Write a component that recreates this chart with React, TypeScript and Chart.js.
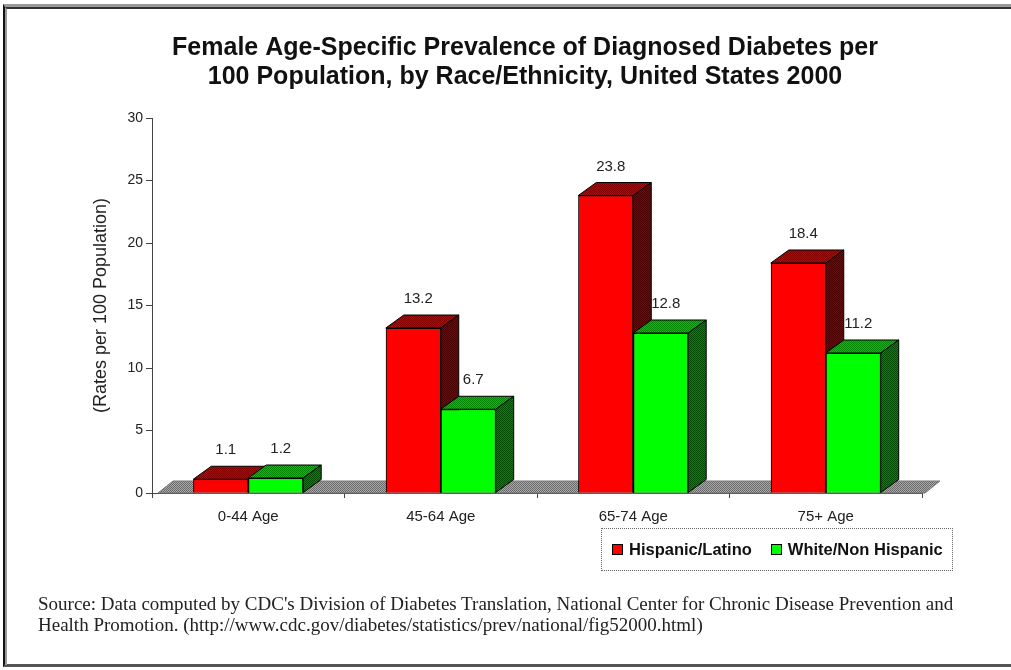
import React, { useEffect, useRef } from 'react';
import { Chart, registerables } from 'chart.js';

Chart.register(...registerables);

const categories = ['0-44 Age', '45-64 Age', '65-74 Age', '75+ Age'];
const seriesNames = ['Hispanic/Latino', 'White/Non Hispanic'];
const hispanicValues = [1.1, 13.2, 23.8, 18.4];
const whiteValues = [1.2, 6.7, 12.8, 11.2];
const yTickValues = [0, 5, 10, 15, 20, 25, 30];
const titleLines = [
  'Female Age-Specific Prevalence of Diagnosed Diabetes per',
  '100 Population, by Race/Ethnicity, United States 2000',
];
const yAxisTitle = '(Rates per 100 Population)';
const sourceLines = [
  "Source: Data computed by CDC's Division of Diabetes Translation, National Center for Chronic Disease Prevention and",
  'Health Promotion. (http://www.cdc.gov/diabetes/statistics/prev/national/fig52000.html)',
];

const frontColors = ['#FF0000', '#00FF00'];
const topColors = [['#C40000', '#860000'], ['#00C400', '#008600']];
const sideColors = [['#880000', '#4C0000'], ['#008800', '#004C00']];
const floorColors = ['#A8A8A8', '#6A6A6A'];

const DX = 18;
const DY = 13;
const FLOOR_DX = 15;
const FLOOR_DY = 12;

function makePattern(ctx: CanvasRenderingContext2D, a: string, b: string) {
  const c = document.createElement('canvas');
  c.width = 2;
  c.height = 2;
  const g = c.getContext('2d')!;
  g.fillStyle = a;
  g.fillRect(0, 0, 2, 2);
  g.fillStyle = b;
  g.fillRect(0, 0, 1, 1);
  g.fillRect(1, 1, 1, 1);
  return ctx.createPattern(c, 'repeat') as CanvasPattern;
}

function poly(ctx: CanvasRenderingContext2D, pts: number[][], fill: any) {
  ctx.beginPath();
  ctx.moveTo(pts[0][0], pts[0][1]);
  for (let i = 1; i < pts.length; i++) ctx.lineTo(pts[i][0], pts[i][1]);
  ctx.closePath();
  ctx.fillStyle = fill;
  ctx.fill();
  ctx.strokeStyle = '#000';
  ctx.lineWidth = 1;
  ctx.stroke();
}

const bar3dPlugin = {
  id: 'bar3d',
  beforeDatasetsDraw(chart: any) {
    const { ctx, chartArea, scales } = chart;
    const y0 = scales.y.getPixelForValue(0);
    const l = chartArea.left + 6;
    const r = chartArea.right + 3;
    ctx.save();
    const pat = makePattern(ctx, floorColors[0], floorColors[1]);
    ctx.beginPath();
    ctx.moveTo(l, y0);
    ctx.lineTo(r, y0);
    ctx.lineTo(r + FLOOR_DX, y0 - FLOOR_DY);
    ctx.lineTo(l + FLOOR_DX, y0 - FLOOR_DY);
    ctx.closePath();
    ctx.fillStyle = pat;
    ctx.fill();
    ctx.strokeStyle = '#777';
    ctx.lineWidth = 1;
    ctx.stroke();
    ctx.restore();
  },
  afterDatasetsDraw(chart: any) {
    const { ctx } = chart;
    ctx.save();
    const tops = topColors.map((c) => makePattern(ctx, c[0], c[1]));
    const sides = sideColors.map((c) => makePattern(ctx, c[0], c[1]));
    const n = chart.data.labels.length;
    const nd = chart.data.datasets.length;
    for (let i = 0; i < n; i++) {
      for (let d = 0; d < nd; d++) {
        const meta = chart.getDatasetMeta(d);
        const el = meta.data[i];
        if (!el) continue;
        el.draw(ctx, chart.chartArea);
        const { x, y, base, width } = el.getProps(['x', 'y', 'base', 'width'], true);
        const left = x - width / 2;
        const right = x + width / 2;
        poly(ctx, [[left, y], [right, y], [right + DX, y - DY], [left + DX, y - DY]], tops[d]);
        poly(ctx, [[right, y], [right + DX, y - DY], [right + DX, base - DY], [right, base]], sides[d]);
      }
    }
    ctx.fillStyle = '#222';
    ctx.font = '15px "Liberation Sans", Arial, sans-serif';
    ctx.textAlign = 'center';
    ctx.textBaseline = 'middle';
    for (let d = 0; d < nd; d++) {
      const meta = chart.getDatasetMeta(d);
      meta.data.forEach((el: any, i: number) => {
        const { x, y } = el.getProps(['x', 'y'], true);
        const v = chart.data.datasets[d].data[i];
        ctx.fillText(Number(v).toFixed(1), x + 5, y - DY - 16);
      });
    }
    ctx.restore();
  },
};

export default function App() {
  const canvasRef = useRef<HTMLCanvasElement | null>(null);

  useEffect(() => {
    document.body.style.margin = '0';
    document.body.style.overflow = 'hidden';
    const canvas = canvasRef.current;
    if (!canvas) return;
    Chart.defaults.font.family = '"Liberation Sans", Arial, sans-serif';
    const chart = new Chart(canvas, {
      type: 'bar',
      data: {
        labels: categories,
        datasets: [
          {
            label: seriesNames[0],
            data: hispanicValues,
            backgroundColor: frontColors[0],
            borderColor: '#000',
            borderWidth: 1,
          },
          {
            label: seriesNames[1],
            data: whiteValues,
            backgroundColor: frontColors[1],
            borderColor: '#000',
            borderWidth: 1,
          },
        ],
      },
      options: {
        responsive: false,
        animation: false,
        datasets: {
          bar: { barPercentage: 1, categoryPercentage: 0.571 },
        },
        layout: { padding: { left: 128, right: 89, top: 0, bottom: 137 } },
        plugins: {
          legend: { display: false },
          tooltip: { enabled: false },
          title: {
            display: true,
            text: titleLines,
            color: '#111',
            font: { size: 25, weight: 'bold', lineHeight: 1.16 },
            padding: { top: 34, bottom: 26 },
          },
        },
        scales: {
          x: {
            grid: {
              display: true,
              drawOnChartArea: false,
              drawTicks: true,
              tickLength: 5,
              color: '#444',
              offset: true,
            },
            border: { display: true, color: '#444' },
            ticks: { color: '#222', font: { size: 15 }, padding: 10 },
            afterFit: (s: any) => {
              s.height = 40;
            },
          },
          y: {
            min: 0,
            max: 30,
            afterBuildTicks: (s: any) => {
              s.ticks = yTickValues.map((v) => ({ value: v }));
            },
            ticks: { color: '#222', font: { size: 14 }, padding: 3 },
            grid: {
              display: true,
              drawOnChartArea: false,
              drawTicks: true,
              tickLength: 6,
              color: '#444',
            },
            border: { display: true, color: '#444' },
            title: {
              display: true,
              text: yAxisTitle,
              color: '#222',
              font: { size: 18 },
              padding: { top: -38, bottom: 0 },
            },
            afterFit: (s: any) => {
              s.width = 24;
            },
          },
        },
      },
      plugins: [bar3dPlugin],
    });
    return () => chart.destroy();
  }, []);

  return (
    <div style={{ position: 'relative', width: 1011, height: 670, background: '#fff', overflow: 'hidden' }}>
      <canvas ref={canvasRef} width={1011} height={670} style={{ position: 'absolute', left: 0, top: 0, display: 'block' }} />
      <div
        style={{
          position: 'absolute',
          left: 3,
          top: 4,
          width: 1008,
          height: 663,
          borderLeft: '2px solid #111',
          borderTop: '3px solid #9a9a9a',
          borderBottom: '3px solid #555',
          boxSizing: 'border-box',
          pointerEvents: 'none',
        }}
      />
      <div
        style={{
          position: 'absolute',
          left: 5,
          top: 7,
          width: 1006,
          height: 658,
          borderLeft: '2px solid #999',
          borderTop: '2px solid #333',
          boxSizing: 'border-box',
          pointerEvents: 'none',
        }}
      />
      <div
        style={{
          position: 'absolute',
          left: 601,
          top: 528,
          width: 352,
          height: 43,
          border: '1px dotted #666',
          boxSizing: 'border-box',
          display: 'flex',
          alignItems: 'center',
          fontFamily: '"Liberation Sans", Arial, sans-serif',
          fontWeight: 'bold',
          fontSize: 16.5,
          color: '#111',
        }}
      >
        {seriesNames.map((name, i) => (
          <div key={name} style={{ display: 'flex', alignItems: 'center', marginLeft: i === 0 ? 10 : 19 }}>
            <span
              style={{
                display: 'inline-block',
                width: 9,
                height: 9,
                background: frontColors[i],
                border: '1px solid #000',
                marginRight: 6,
              }}
            />
            <span>{name}</span>
          </div>
        ))}
      </div>
      <div
        style={{
          position: 'absolute',
          left: 38,
          top: 593,
          fontFamily: '"Liberation Serif", "Times New Roman", serif',
          fontSize: 19,
          lineHeight: '21px',
          color: '#222',
          whiteSpace: 'nowrap',
        }}
      >
        {sourceLines.map((line) => (
          <div key={line}>{line}</div>
        ))}
      </div>
    </div>
  );
}
